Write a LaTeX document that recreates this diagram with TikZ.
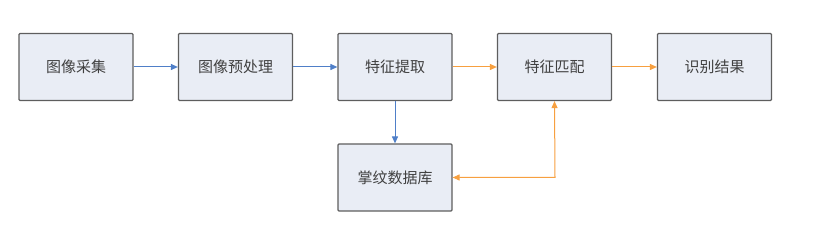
\documentclass[tikz,border=0pt]{standalone}
\usepackage{fontspec}
\newfontfamily\cjk{Noto Sans CJK SC}
\usetikzlibrary{arrows.meta}
\definecolor{boxfill}{HTML}{E9EDF5}
\definecolor{boxline}{HTML}{5E5E5E}
\definecolor{txt}{HTML}{404040}
\definecolor{bluearr}{HTML}{4F7FC8}
\definecolor{orarr}{HTML}{F7A040}
\tikzset{
  stepbox/.style={draw=boxline, line width=1.2pt, fill=boxfill, rounded corners=1pt,
    minimum width=114pt, minimum height=67pt, inner sep=0pt,
    font=\cjk\fontsize{15}{16}\selectfont, text=txt},
  barrow/.style={draw=bluearr, line width=1pt, -{Triangle[length=7pt,width=6pt]}},
  oarrow/.style={draw=orarr, line width=1pt, -{Triangle[length=7pt,width=6pt]}},
}
\begin{document}
\begin{tikzpicture}[x=1pt,y=-1pt]
\useasboundingbox (0,0) rectangle (830,232);
\node[stepbox] (a) at (76,67) {图像采集};
\node[stepbox] (b) at (235.5,67) {图像预处理};
\node[stepbox] (c) at (395,67) {特征提取};
\node[stepbox] (d) at (554.5,67) {特征匹配};
\node[stepbox] (e) at (714.5,67) {识别结果};
\node[stepbox] (f) at (395,177.5) {掌纹数据库};
\coordinate (k) at (555,177.5);
\draw[barrow] (a) -- (b);
\draw[barrow] (b) -- (c);
\draw[barrow] (c.south) -- (f.north);
\draw[oarrow] (c) -- (d);
\draw[oarrow] (d) -- (e);
\draw[oarrow, {Triangle[length=7pt,width=6pt]}-{Triangle[length=7pt,width=6pt]}] (f.east) -- (k) -- (d.south);
\end{tikzpicture}
\end{document}
